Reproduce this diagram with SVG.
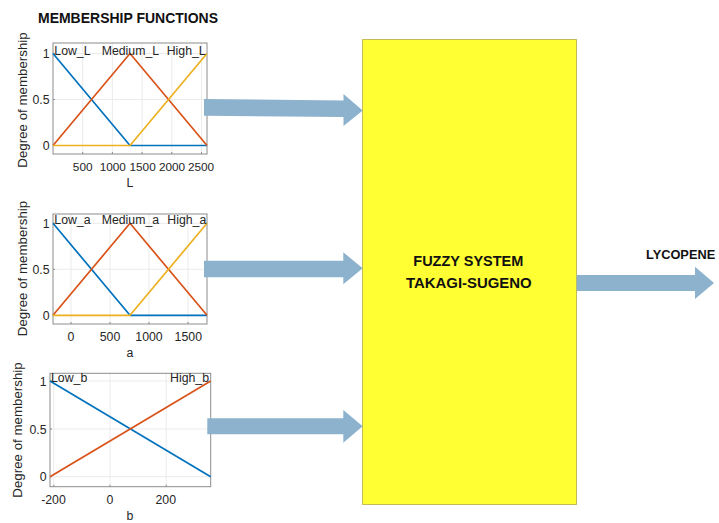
<svg xmlns="http://www.w3.org/2000/svg" width="719" height="523" viewBox="0 0 719 523">
  <style>
    .ttl { font-family: "Liberation Sans", Arial, sans-serif; font-weight: bold; font-size: 15.5px; fill: #111; }
    .out { font-family: "Liberation Sans", Arial, sans-serif; font-weight: bold; font-size: 12.8px; fill: #111; }
    .tk { font-family: "Liberation Sans", Arial, sans-serif; font-size: 12.3px; fill: #262626; }
    .tkm { font-family: "Liberation Sans", Arial, sans-serif; font-size: 12.3px; fill: #262626; text-anchor: middle; }
    .tks { font-family: "Liberation Sans", Arial, sans-serif; font-size: 11.8px; fill: #262626; text-anchor: middle; }
    .tkr { font-family: "Liberation Sans", Arial, sans-serif; font-size: 12.3px; fill: #262626; text-anchor: end; }
    .yl { font-family: "Liberation Sans", Arial, sans-serif; font-size: 13.3px; fill: #262626; text-anchor: middle; }
    .ax { fill: none; stroke: #8c8c8c; stroke-width: 1; }
    .grid { stroke: #ebebeb; stroke-width: 1; fill: none; }
    .mf { fill: none; stroke-width: 1.7; stroke-linejoin: round; }
    .blue { stroke: #0072bd; }
    .orange { stroke: #d95319; }
    .yel { stroke: #edb120; }
    .arrow { fill: #8db2ce; }
    .fis { fill: #ffff33; stroke: #c4bd55; stroke-width: 1; }
  </style>

  <text class="ttl" x="38" y="23" textLength="180" lengthAdjust="spacingAndGlyphs">MEMBERSHIP FUNCTIONS</text>

  <!-- membership functions for L -->
  <g id="mf-L">
    <rect x="53" y="43" width="154" height="111" fill="#fff"/>
    <path class="grid" d="M82.7 43V154M112.4 43V154M142.1 43V154M171.8 43V154M201.5 43V154M53 53.5H207M53 99.5H207M53 145.5H207"/>
    <rect class="ax" x="53" y="43" width="154" height="111"/>
    <path class="ax" d="M82.7 154v-2M112.4 154v-2M142.1 154v-2M171.8 154v-2M201.5 154v-2M53 53.5h2M53 99.5h2M53 145.5h2"/>
    <polyline class="mf blue" points="53,53.5 130,145.5 207,145.5"/>
    <polyline class="mf orange" points="53,145.5 130,53.5 207,145.5"/>
    <polyline class="mf yel" points="53,145.5 130,145.5 207,53.5"/>
    <text class="tk" x="54.3" y="54.5">Low_L</text>
    <text class="tk" x="101.7" y="54.5">Medium_L</text>
    <text class="tk" x="166.7" y="54.5">High_L</text>
    <text class="tkr" x="49.5" y="57.8">1</text>
    <text class="tkr" x="49.5" y="103.8">0.5</text>
    <text class="tkr" x="49.5" y="149.8">0</text>
    <text class="tks" x="82.7" y="170.5">500</text>
    <text class="tks" x="112.8" y="170.5">1000</text>
    <text class="tks" x="142.6" y="170.5">1500</text>
    <text class="tks" x="172" y="170.5">2000</text>
    <text class="tks" x="201" y="170.5">2500</text>
    <text class="tkm" x="130" y="187.3">L</text>
    <text class="yl" transform="translate(26.5 100) rotate(-90)">Degree of membership</text>
  </g>

  <!-- membership functions for a -->
  <g id="mf-a">
    <rect x="53" y="214" width="154" height="110" fill="#fff"/>
    <path class="grid" d="M71 214V324M110 214V324M149 214V324M188 214V324M53 223.3H207M53 269.3H207M53 315.3H207"/>
    <rect class="ax" x="53" y="214" width="154" height="110"/>
    <path class="ax" d="M71 324v-2M110 324v-2M149 324v-2M188 324v-2M53 223.3h2M53 269.3h2M53 315.3h2"/>
    <polyline class="mf blue" points="53,223.3 130,315.3 207,315.3"/>
    <polyline class="mf orange" points="53,315.3 130,223.3 207,315.3"/>
    <polyline class="mf yel" points="53,315.3 130,315.3 207,223.3"/>
    <text class="tk" x="54.3" y="224.3">Low_a</text>
    <text class="tk" x="101.7" y="224.3">Medium_a</text>
    <text class="tk" x="167.3" y="224.3">High_a</text>
    <text class="tkr" x="49.5" y="227.6">1</text>
    <text class="tkr" x="49.5" y="273.6">0.5</text>
    <text class="tkr" x="49.5" y="319.6">0</text>
    <text class="tkm" x="71" y="340.7">0</text>
    <text class="tkm" x="110" y="340.7">500</text>
    <text class="tkm" x="149" y="340.7">1000</text>
    <text class="tkm" x="188.3" y="340.7">1500</text>
    <text class="tkm" x="130" y="356.7">a</text>
    <text class="yl" transform="translate(26.5 268.5) rotate(-90)">Degree of membership</text>
  </g>

  <!-- membership functions for b -->
  <g id="mf-b">
    <rect x="50" y="373.3" width="160.7" height="113.4" fill="#fff"/>
    <path class="grid" d="M53.8 373.3V486.7M110 373.3V486.7M166.2 373.3V486.7M50 381H210.7M50 429H210.7M50 476.7H210.7"/>
    <rect class="ax" x="50" y="373.3" width="160.7" height="113.4"/>
    <path class="ax" d="M53.8 486.7v-2M110 486.7v-2M166.2 486.7v-2M50 381h2M50 429h2M50 476.7h2"/>
    <line class="mf blue" x1="50" y1="381" x2="210.7" y2="476.7"/>
    <line class="mf orange" x1="50" y1="476.7" x2="210.7" y2="381"/>
    <text class="tk" x="51" y="382">Low_b</text>
    <text class="tkr" x="209" y="382">High_b</text>
    <text class="tkr" x="46.5" y="386.3">1</text>
    <text class="tkr" x="46.5" y="433.6">0.5</text>
    <text class="tkr" x="46.5" y="481">0</text>
    <text class="tkm" x="53.5" y="503.5">-200</text>
    <text class="tkm" x="110" y="503.5">0</text>
    <text class="tkm" x="165.8" y="503.5">200</text>
    <text class="tkm" x="130" y="520">b</text>
    <text class="yl" transform="translate(21.5 430) rotate(-90)">Degree of membership</text>
  </g>

  <!-- Takagi-Sugeno inference block -->
  <g id="fis">
    <rect class="fis" x="362.5" y="39.5" width="214" height="465"/>
    <text class="ttl" x="413.3" y="266" textLength="110" lengthAdjust="spacingAndGlyphs">FUZZY SYSTEM</text>
    <text class="ttl" x="406" y="288.3" textLength="125.7" lengthAdjust="spacingAndGlyphs">TAKAGI-SUGENO</text>
  </g>

  <g id="output">
    <text class="out" x="646" y="259.3">LYCOPENE</text>
  </g>

  <!-- block arrows -->
  <g id="connectors">
    <polygon class="arrow" points="204,99 343.5,100.5 343.5,94 362.7,110.5 343.5,126 343.5,117 204,115.7"/>
    <polygon class="arrow" points="204,260.7 343.3,260.7 343.3,252.3 362.7,268.3 343.3,284.3 343.3,277.3 204,277.3"/>
    <polygon class="arrow" points="207.3,418.3 343.3,418.3 343.3,410 362.7,426.3 343.3,442.7 343.3,434.3 207.3,434.3"/>
    <polygon class="arrow" points="576.7,275 695,275 695,266.7 714,283 695,299 695,291 576.7,291"/>
  </g>
</svg>
